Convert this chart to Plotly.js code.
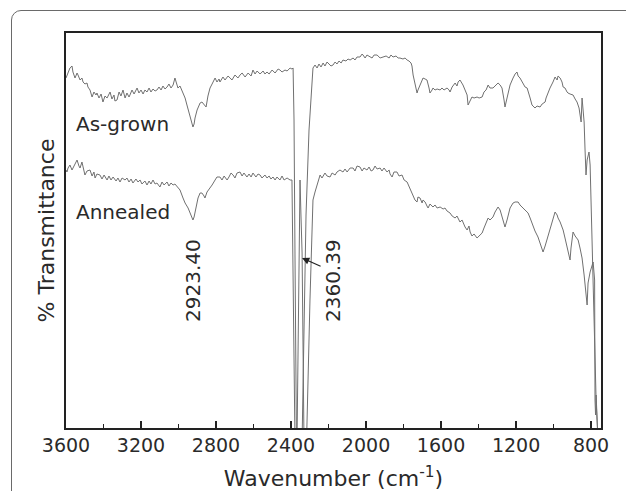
<!DOCTYPE html>
<html>
<head>
<meta charset="utf-8">
<script src="https://cdn.plot.ly/plotly-3.0.1.min.js"></script>
<style>
  html, body { margin: 0; padding: 0; width: 626px; height: 491px; overflow: hidden; background: #fff; }
  #frame { position: absolute; left: 11px; top: 10px; width: 700px; height: 600px;
           border: 1.5px solid #6a6a6a; border-radius: 10px; box-sizing: border-box; }
  #chart { position: absolute; left: 0; top: 0; width: 626px; height: 491px; }
</style>
</head>
<body>
<div id="frame"></div>
<div id="chart"></div>
<script>
// Wavenumber (cm^-1) and transmittance (arbitrary units, traces offset)
const asGrownWn = [3600,3589,3579,3568,3563,3552,3541,3536,3525,3515,3509,3499,3488,3483,3472,3461,3451,3440,3435,3424,3413,3403,3392,3381,3371,3365,3355,3344,3339,3328,3317,3307,3296,3285,3275,3264,3259,3248,3237,3227,3221,3211,3200,3189,3179,3168,3157,3147,3136,3125,3115,3104,3093,3083,3072,3061,3051,3040,3029,3019,3008,3003,2992,2981,2976,2965,2955,2944,2939,2928,2923,2917,2912,2901,2896,2885,2875,2864,2853,2843,2832,2821,2811,2805,2795,2784,2779,2768,2763,2752,2736,2725,2715,2699,2683,2672,2661,2645,2629,2613,2603,2592,2581,2565,2549,2539,2528,2517,2501,2485,2469,2459,2448,2432,2421,2405,2395,2389,2384,2379,2371,2341,2331,2320,2304,2293,2283,2272,2261,2251,2240,2229,2219,2208,2197,2187,2176,2165,2155,2144,2133,2123,2107,2096,2085,2069,2059,2048,2032,2021,2016,2005,1995,1979,1968,1957,1941,1925,1909,1893,1877,1867,1856,1840,1829,1819,1803,1792,1781,1771,1760,1755,1749,1739,1728,1723,1712,1701,1696,1685,1675,1664,1659,1648,1643,1632,1621,1605,1595,1584,1568,1557,1552,1541,1525,1515,1509,1499,1488,1483,1472,1461,1456,1445,1435,1424,1408,1397,1381,1371,1360,1349,1339,1323,1312,1296,1285,1275,1264,1259,1253,1243,1232,1216,1205,1195,1189,1179,1168,1152,1141,1136,1125,1115,1099,1088,1072,1061,1045,1040,1029,1019,1003,992,981,976,965,955,949,939,928,923,912,896,885,875,864,859,853,848,843,837,832,827,821,816,811,805,800,795,784,773,763];
const asGrownT = [350,356,360,362,356,350,355,353,348,350,346,344,345,341,338,331,336,333,335,330,334,326,332,330,335,336,329,333,327,328,336,332,338,330,335,331,333,338,334,339,340,335,338,334,338,336,340,336,339,337,338,341,338,342,339,341,344,340,343,350,343,340,342,337,336,330,323,316,311,304,301,304,310,318,320,325,326,324,321,332,340,344,347,350,346,349,346,350,351,348,352,350,348,353,350,353,355,351,355,352,358,354,357,354,357,354,356,354,358,355,359,358,356,358,357,360,359,360,308,178,-12,-12,98,213,298,338,360,363,360,364,361,365,362,366,364,362,363,366,364,367,365,368,367,369,368,370,368,371,371,374,373,370,373,371,370,373,373,370,371,372,370,373,371,372,370,370,369,370,368,367,365,362,353,343,335,338,343,348,350,349,348,340,335,338,340,338,339,338,340,338,340,338,336,341,345,342,346,348,345,343,338,333,323,328,331,330,331,330,331,336,338,343,340,340,342,345,343,340,328,321,326,336,343,350,354,356,352,350,346,341,340,336,330,323,320,322,321,324,326,330,336,340,346,351,348,352,350,346,341,340,336,335,334,333,329,326,320,313,306,330,318,306,278,253,268,273,276,263,228,178,98,28,-12];

const annealedWn = [3600,3595,3589,3579,3568,3563,3552,3541,3531,3525,3515,3504,3499,3488,3472,3461,3451,3445,3435,3419,3408,3397,3381,3371,3360,3349,3333,3323,3312,3301,3285,3275,3264,3253,3243,3227,3216,3205,3195,3179,3168,3157,3147,3136,3125,3115,3099,3088,3077,3061,3051,3040,3029,3019,3003,2992,2976,2965,2949,2939,2928,2923,2917,2912,2901,2896,2885,2875,2864,2859,2848,2832,2821,2805,2795,2779,2768,2757,2741,2731,2720,2709,2699,2688,2672,2661,2651,2635,2624,2613,2603,2587,2576,2565,2555,2539,2528,2517,2507,2496,2485,2475,2459,2448,2437,2421,2405,2395,2387,2379,2368,2357,2352,2347,2341,2331,2317,2299,2288,2283,2272,2261,2251,2245,2235,2219,2208,2192,2181,2165,2155,2139,2123,2112,2101,2085,2069,2059,2048,2032,2021,2011,1995,1984,1973,1963,1952,1941,1925,1915,1904,1888,1877,1872,1861,1851,1835,1824,1808,1797,1781,1771,1765,1755,1749,1739,1728,1723,1712,1701,1696,1685,1675,1669,1659,1643,1632,1621,1605,1589,1579,1568,1552,1541,1525,1515,1499,1488,1472,1461,1451,1445,1435,1424,1408,1397,1381,1371,1360,1349,1339,1323,1312,1296,1285,1275,1264,1259,1248,1243,1232,1216,1205,1189,1179,1163,1152,1136,1125,1109,1099,1083,1072,1056,1045,1035,1019,1008,992,981,976,965,949,939,923,912,907,896,885,875,869,859,848,837,827,821,816,805,789,781,779,776,773,768,763];
const annealedT = [258,256,260,263,258,260,265,268,262,260,266,258,253,257,258,252,256,250,254,253,249,253,248,252,248,251,247,250,246,250,248,250,246,249,245,249,246,248,244,247,243,247,244,248,244,245,241,246,243,246,242,245,243,244,240,238,230,225,220,215,210,208,211,216,225,230,235,235,232,230,236,240,243,248,251,251,248,252,248,251,255,253,250,255,256,252,255,251,254,251,255,251,254,253,250,253,250,252,249,251,248,251,248,252,248,250,248,248,128,-12,-12,178,248,213,175,-12,-12,128,213,228,236,243,250,253,250,255,252,251,255,253,256,258,256,259,256,260,260,257,262,261,257,260,258,261,257,258,262,259,260,257,260,256,258,254,251,256,256,252,253,248,246,242,240,235,233,228,226,231,230,225,228,226,222,220,224,221,223,220,221,219,220,217,215,212,210,212,206,208,201,198,202,196,192,194,190,192,195,200,206,210,208,211,216,221,218,212,204,201,208,213,220,225,226,226,223,220,218,215,210,201,197,191,185,176,182,188,200,206,216,213,210,206,198,190,178,168,180,196,192,190,188,180,170,153,128,123,145,156,166,148,28,13,33,-2,-12];

const xTickVals = [3600,3200,2800,2400,2000,1600,1200,800];
const xTickText = ['3600','3200','2800','2400','2000','1600','1200','800'];

const lineStyle = {color: '#707070', width: 1};
const traces = [
  {x: asGrownWn, y: asGrownT, mode: 'lines', line: lineStyle, name: 'As-grown', hoverinfo: 'skip'},
  {x: annealedWn, y: annealedT, mode: 'lines', line: lineStyle, name: 'Annealed', hoverinfo: 'skip'}
];

const txtFont = {family: 'DejaVu Sans, Verdana, sans-serif', size: 20, color: '#2a2a2a'};

const layout = {
  width: 626, height: 491,
  margin: {l: 66, r: 25, t: 33, b: 63, pad: 0},
  paper_bgcolor: 'rgba(0,0,0,0)',
  plot_bgcolor: 'rgba(0,0,0,0)',
  showlegend: false,
  font: {family: 'DejaVu Sans, Verdana, sans-serif', color: '#2a2a2a'},
  xaxis: {
    range: [3600, 747], autorange: false,
    tickmode: 'array', tickvals: xTickVals, ticktext: xTickText,
    ticks: 'inside', ticklen: 7, tickwidth: 1.5, tickcolor: '#222',
    minor: {ticks: 'inside', ticklen: 4, tickwidth: 1.5, tickcolor: '#222', dtick: 200, tick0: 800, showgrid: false},
    showgrid: false, zeroline: false,
    showline: true, linecolor: '#222', linewidth: 1.6, mirror: true,
    tickfont: {size: 19, color: '#2a2a2a'},
    title: {text: 'Wavenumber (cm<sup>-1</sup>)', font: {size: 22, color: '#2a2a2a'}, standoff: 18}
  },
  yaxis: {
    range: [0, 395], autorange: false,
    showticklabels: false, ticks: '',
    showgrid: false, zeroline: false,
    showline: true, linecolor: '#222', linewidth: 1.6, mirror: true,
    title: {text: '% Transmittance', font: {size: 22, color: '#2a2a2a'}, standoff: 4}
  },
  annotations: [
    {x: 3556, y: 304, xref: 'x', yref: 'y', text: 'As-grown', showarrow: false, xanchor: 'left', yanchor: 'middle', font: txtFont},
    {x: 3556, y: 216, xref: 'x', yref: 'y', text: 'Annealed', showarrow: false, xanchor: 'left', yanchor: 'middle', font: txtFont},
    {x: 2923, y: 148, xref: 'x', yref: 'y', text: '2923.40', showarrow: false, textangle: -90, font: txtFont},
    {x: 2176, y: 147, xref: 'x', yref: 'y', text: '2360.39', showarrow: false, textangle: -90, font: txtFont},
    {x: 2341, y: 170, xref: 'x', yref: 'y', ax: 20, ay: 9, axref: 'pixel', ayref: 'pixel', text: '', showarrow: true,
     arrowhead: 2, arrowsize: 1.2, arrowwidth: 1.2, arrowcolor: '#222', standoff: 0, startstandoff: 0}
  ]
};

Plotly.newPlot('chart', traces, layout, {displayModeBar: false, staticPlot: true});
</script>
</body>
</html>
